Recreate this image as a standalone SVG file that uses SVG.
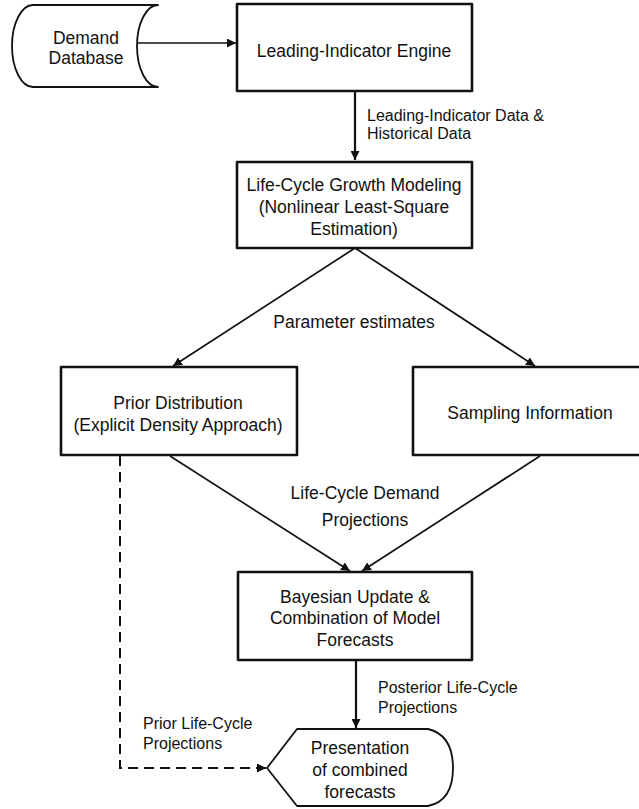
<svg xmlns="http://www.w3.org/2000/svg" width="639" height="809" viewBox="0 0 639 809">
  <style>
    .shape { fill: #fff; stroke: #111; stroke-width: 2.6; stroke-linejoin: round; }
    .soft { fill: #fff; stroke: #111; stroke-width: 1.8; stroke-linejoin: round; }
    .node { font-family: "Liberation Sans", Arial, Helvetica, sans-serif; font-size: 17.5px; fill: #111; text-anchor: middle; }
    .lbl { font-family: "Liberation Sans", Arial, Helvetica, sans-serif; font-size: 16px; fill: #111; }
    .mid { font-family: "Liberation Sans", Arial, Helvetica, sans-serif; font-size: 17.5px; fill: #111; text-anchor: middle; }
    .edge { fill: none; stroke: #111; stroke-width: 1.7; marker-end: url(#arrow); }
    .thick { stroke-width: 2.2; }
    .dash { stroke-dasharray: 10 6; stroke-width: 2; }
  </style>
  <defs>
    <marker id="arrow" viewBox="0 0 10 10" refX="10" refY="5" markerWidth="9" markerHeight="9" markerUnits="userSpaceOnUse" orient="auto">
      <path d="M0,0 L10,5 L0,10 Z" fill="#111"/>
    </marker>
  </defs>

  <rect width="639" height="809" fill="#fff"/>

  <!-- connectors -->
  <g id="connectors">
    <line class="edge" x1="137" y1="43" x2="236" y2="43"/>
    <line class="edge thick" x1="355" y1="92" x2="355" y2="160"/>
    <line class="edge" x1="355" y1="248" x2="173" y2="366"/>
    <line class="edge" x1="355" y1="248" x2="535" y2="366"/>
    <line class="edge" x1="170" y1="456" x2="350" y2="571"/>
    <line class="edge" x1="540" y1="456" x2="362" y2="571"/>
    <line class="edge thick" x1="356" y1="660" x2="356" y2="728"/>
    <polyline class="edge dash" points="120,456 120,768 266,768"/>
  </g>

  <!-- connector labels -->
  <g id="labels">
    <text class="lbl" x="367" y="121">Leading-Indicator Data &amp;</text>
    <text class="lbl" x="367" y="139">Historical Data</text>
    <text class="mid" x="354" y="328">Parameter estimates</text>
    <text class="mid" x="365" y="499">Life-Cycle Demand</text>
    <text class="mid" x="365" y="526">Projections</text>
    <text class="lbl" x="378" y="693">Posterior Life-Cycle</text>
    <text class="lbl" x="378" y="713">Projections</text>
    <text class="lbl" x="143" y="729">Prior Life-Cycle</text>
    <text class="lbl" x="143" y="749">Projections</text>
  </g>

  <!-- stored data source -->
  <g id="demand-database">
    <path class="soft" d="M33,5 L158,5 A21,41 0 0 0 158,87 L33,87 A21,41 0 0 1 33,5 Z"/>
    <text class="node" x="86" y="44">Demand</text>
    <text class="node" x="86" y="64">Database</text>
  </g>

  <g id="leading-indicator-engine">
    <rect class="shape" x="237" y="4" width="235" height="87"/>
    <text class="node" x="354" y="57">Leading-Indicator Engine</text>
  </g>

  <g id="life-cycle-growth-modeling">
    <rect class="shape" x="237" y="162" width="235" height="86"/>
    <text class="node" x="354" y="191">Life-Cycle Growth Modeling</text>
    <text class="node" x="354" y="213">(Nonlinear Least-Square</text>
    <text class="node" x="354" y="235">Estimation)</text>
  </g>

  <g id="prior-distribution">
    <rect class="shape" x="61" y="367" width="236" height="88"/>
    <text class="node" x="178" y="409">Prior Distribution</text>
    <text class="node" x="178" y="431">(Explicit Density Approach)</text>
  </g>

  <g id="sampling-information">
    <rect class="shape" x="413" y="367" width="232" height="88"/>
    <text class="node" x="530" y="419">Sampling Information</text>
  </g>

  <g id="bayesian-update">
    <rect class="shape" x="238" y="572" width="234" height="88"/>
    <text class="node" x="355" y="603">Bayesian Update &amp;</text>
    <text class="node" x="355" y="624">Combination of Model</text>
    <text class="node" x="355" y="646">Forecasts</text>
  </g>

  <!-- display symbol -->
  <g id="presentation">
    <path class="soft" d="M297,729 L428,729 Q453,735 453,768 Q453,801 428,806 L297,806 L267,768 Z"/>
    <text class="node" x="360" y="754">Presentation</text>
    <text class="node" x="360" y="776">of combined</text>
    <text class="node" x="360" y="798">forecasts</text>
  </g>
</svg>
